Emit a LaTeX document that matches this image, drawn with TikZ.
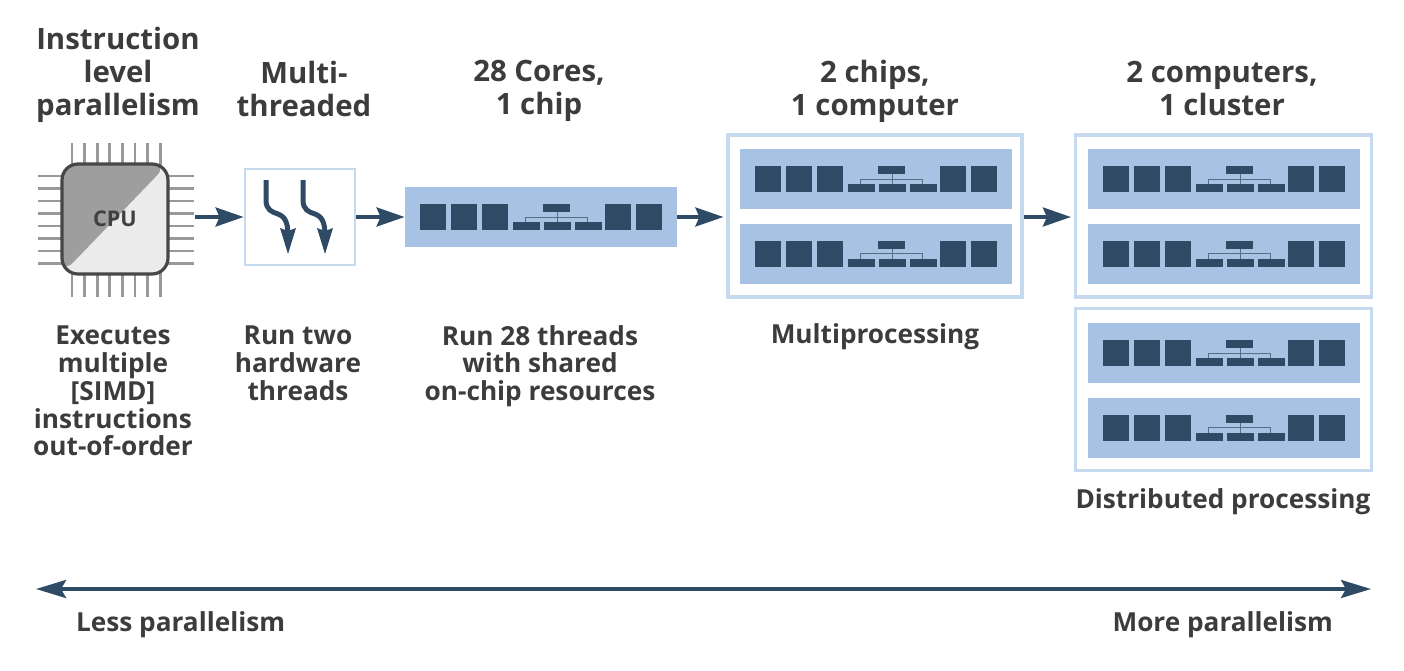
\documentclass[tikz,border=0pt]{standalone}
\usepackage{fontspec}
\setmainfont{Open Sans}
\usetikzlibrary{arrows.meta, positioning, calc}
\definecolor{plnavy}{HTML}{2E4A64}
\definecolor{plblue}{HTML}{A7C2E2}
\definecolor{plframe}{HTML}{C6DAEF}
\definecolor{pltext}{HTML}{3C3C3E}
\tikzset{
    plhead/.style={align=center, text=pltext, font=\fontsize{14.7}{16.5}\selectfont\bfseries},
    plnote/.style={align=center, text=pltext, font=\fontsize{13.1}{13.9}\selectfont\bfseries},
    plarrow/.style={-{Stealth[length=14pt, width=9.5pt, inset=2pt]}, line width=1.8pt, color=plnavy},
    plbar/.style={fill=plblue, minimum width=136pt, minimum height=30pt, inner sep=0pt},
    plframebox/.style={draw=plframe, line width=1.6pt, fill=white, inner sep=0pt},
    plpin/.style={draw=black!40, line width=1.4pt},
    plcore/.style={fill=plnavy},
    corebar/.pic={
      % five cores and the small tree in the middle
      \foreach \x in {-60.5, -45, -29.5, 32, 47.5}
        \fill[plcore] (\x pt,-6.5pt) rectangle ++(13pt,13pt);
      \fill[plcore] (1pt,2.5pt) rectangle ++(13.5pt,4pt);
      \foreach \x in {-14, 1.5, 17}
        \fill[plcore] (\x pt,-6.5pt) rectangle ++(13.5pt,4pt);
      \draw[plnavy!80, line width=0.5pt] (-8pt,-2.5pt) |- (23pt,0pt) -- (23pt,-2.5pt)
        (8pt,2.5pt) -- (8pt,-2.5pt);
    },
    threadarrow/.pic={
      \draw[plnavy, line width=2.5pt] (0,0) -- (0,-10pt) .. controls (0,-15pt) and (3pt,-16pt) .. (6pt,-17pt)
        .. controls (10pt,-18.5pt) and (11pt,-22pt) .. (11pt,-28pt);
      \fill[plnavy] (11pt,-37pt) -- (7pt,-24pt) -- (11pt,-25.5pt) -- (15pt,-24pt) -- cycle;
    }
}
\begin{document}
\begin{tikzpicture}[x=0.5pt, y=-0.5pt]
  \useasboundingbox (0,0) rectangle (1404,670);
  % CPU with its pins
  \foreach \p in {0,...,7} {
    \draw[plpin] ({72+\p*12.6},143) -- ({72+\p*12.6},297);
    \draw[plpin] (38,{176+\p*12.5}) -- (194,{176+\p*12.5});
  }
  \node[draw=black!72, line width=1.6pt, rounded corners=8pt, minimum width=53pt, minimum height=55pt,
        inner sep=0pt, fill=black!8, font=\fontsize{10.8}{12}\selectfont\bfseries, text=black!75,
        path picture={\fill[black!38] (path picture bounding box.south west)
          -- (path picture bounding box.north east) -- (path picture bounding box.north west) -- cycle;}]
        (cpu) at (115,219) {CPU};
  \coordinate (cpuout) at (195,217);

  % Thread box and the single chip
  \node[draw=plframe, line width=1.4pt, minimum width=55pt, minimum height=48pt, right=37pt of cpu, yshift=1pt] (threads) {};
  \pic at (266,180) {threadarrow};
  \pic at (303,180) {threadarrow};
  \node[plbar] (chip) at (541,217) {};
  \pic at (chip.center) {corebar};

  % 2 chips
  \node[plframebox, minimum width=147pt, minimum height=81pt] (computer) at (875,216) {};
  \node[plbar] (chipa) at (876,179) {};
  \node[plbar, below=7pt of chipa] (chipb) {};
  \pic at (chipa.center) {corebar};
  \pic at (chipb.center) {corebar};

  % 2 computers
  \node[plframebox, minimum width=148pt, minimum height=81pt] (nodea) at (1223.5,216) {};
  \node[plbar] (chipc) at (1224,179) {};
  \node[plbar, below=7pt of chipc] (chipd) {};
  \node[plframebox, minimum width=148pt, minimum height=81pt, below=4pt of nodea] (nodeb) {};
  \node[plbar] (chipe) at (1224,353) {};
  \node[plbar, below=7pt of chipe] (chipf) {};
  \foreach \c in {chipc, chipd, chipe, chipf}
    \pic at (\c.center) {corebar};

  % Steps
  \draw[plarrow] (cpuout) -- (threads.west);
  \draw[plarrow] (threads.east) -- (chip.west);
  \draw[plarrow, shorten >=1.5pt] (chip.east) -- (computer.west |- chip.east);
  \draw[plarrow, shorten >=1.5pt] (computer.east |- chip.east) -- (nodea.west |- chip.east);

  % Headings
  \node[plhead] (headcpu) at (118,75) {Instruction\\level\\parallelism};
  \node[plhead] (headthread) at (304,88.5) {Multi-\\threaded};
  \node[plhead] (headchip) at (539,91) {28 Cores,\\1 chip};
  \node[plhead] (headcomp) at (875,91) {2 chips,\\1 computer};
  \node[plhead] (headclus) at (1222,88.5) {2 computers,\\1 cluster};

  % Notes under the pictures
  \node[plnote] (notecpu) at (113,391) {Executes\\multiple\\{[SIMD]}\\instructions\\out-of-order};
  \node[plnote] (notethread) at (298,363) {Run two\\hardware\\threads};
  \node[plnote] (notechip) at (540,366) {Run 28 threads\\with shared\\on-chip resources};
  \node[plnote] (notecomp) at (875,337) {Multiprocessing};
  \node[plnote] (noteclus) at (1223,502) {Distributed processing};

  % Scale along the bottom
  \node[plnote, anchor=west] (less) at (69,625) {Less parallelism};
  \node[plnote, anchor=east] (more) at (1340,625) {More parallelism};
  \coordinate (scaleleft) at (36,589);
  \coordinate (scaleright) at (1371,589);
  \draw[plarrow, {Stealth[length=15pt, width=9pt, inset=2.5pt]}-{Stealth[length=15pt, width=9pt, inset=2.5pt]}] (scaleleft) -- (scaleright);
\end{tikzpicture}
\end{document}
